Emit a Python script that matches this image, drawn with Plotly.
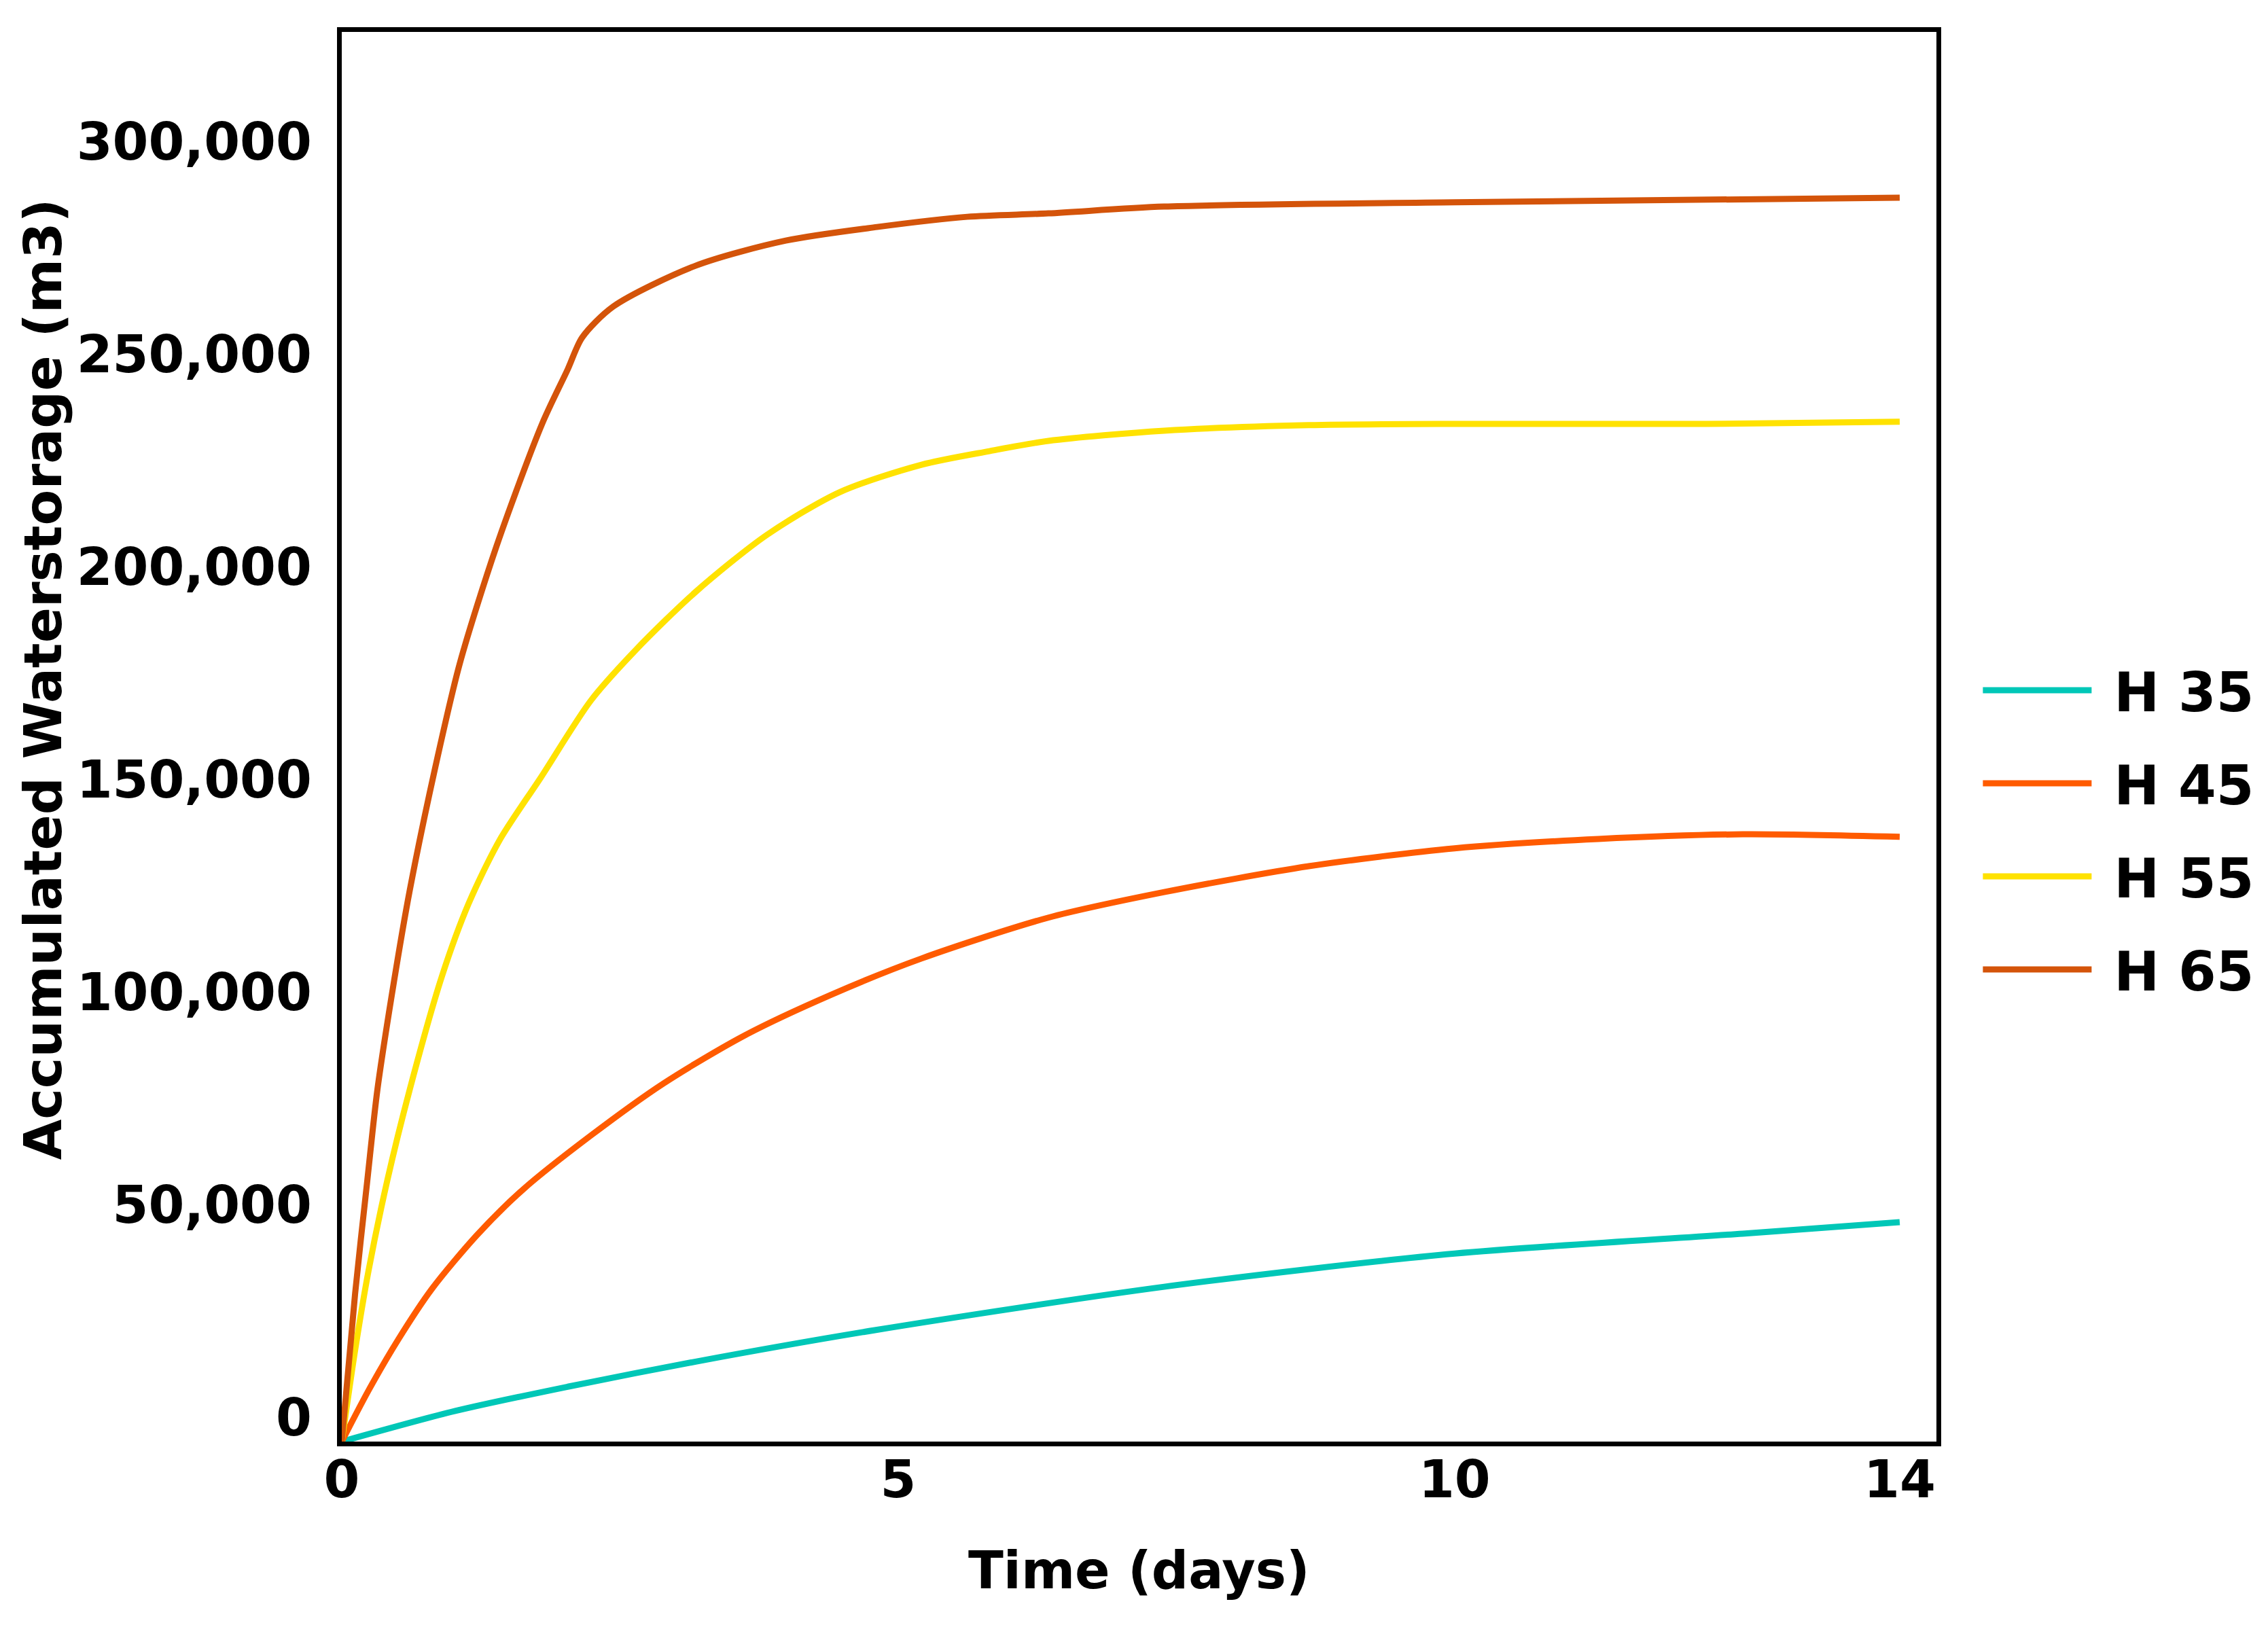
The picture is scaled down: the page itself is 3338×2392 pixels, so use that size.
import plotly.graph_objects as go

# ---- data ----
series_names = ["H 35", "H 45", "H 55", "H 65"]
series_colors = ["#00C7B7", "#FF5B00", "#FFE200", "#D4540A"]

h35_days = [0, 1.02, 2.03, 3.18, 4.79, 7.39, 10.0, 12.59, 14.0]
h35_vals = [0, 7200, 12900, 18800, 26200, 36400, 44200, 48900, 51600]

h45_days = [0, 0.24, 0.51, 0.81, 1.22, 1.63, 2.24, 2.89, 3.62, 4.40, 5.21,
            6.35, 7.39, 8.69, 10.0, 11.29, 12.59, 14.0]
h45_vals = [0, 12000, 24100, 35900, 48700, 59300, 72000, 84200, 95500, 105100,
            113600, 123200, 129200, 135300, 139500, 141700, 142800, 142200]

h55_days = [0, 0.12, 0.24, 0.41, 0.61, 0.90, 1.14, 1.42, 1.79, 2.24,
            2.64, 3.18, 3.82, 4.48, 5.21, 5.82, 6.35, 7.39, 8.69, 10.0, 12.26, 14.0]
h55_vals = [0, 21500, 40100, 61500, 82700, 109400, 126500, 141500, 156200,
            174300, 186100, 199800, 213200, 223300, 229700, 232900, 235300,
            237700, 239000, 239300, 239300, 239800]

h65_days = [0, 0.12, 0.23, 0.32, 0.47, 0.61, 0.84, 1.06, 1.39, 1.80,
            2.03, 2.16, 2.44, 3.18, 3.99, 4.81, 5.62, 6.35, 7.39, 10.0, 14.0]
h65_vals = [0, 34800, 61500, 82700, 108300, 129500, 158500, 182900, 210500,
            239300, 252100, 259600, 266900, 276500, 282400, 285600,
            288000, 288800, 290400, 291400, 292500]

x_tickvals = [0, 5, 10, 14]
y_tickvals = [0, 50000, 100000, 150000, 200000, 250000, 300000]

x_title = "Time (days)"
y_title = "Accumulated Waterstorage (m3)"

FONT = "DejaVu Sans"
NBSP = "\u00a0"

fig = go.Figure()
all_days = [h35_days, h45_days, h55_days, h65_days]
all_vals = [h35_vals, h45_vals, h55_vals, h65_vals]
for name, xs, ys, col in zip(series_names, all_days, all_vals, series_colors):
    fig.add_trace(go.Scatter(
        x=xs, y=ys, mode="lines", name=NBSP + name, legendgroup=name,
        line=dict(color=col, width=9, shape="spline", smoothing=0.8),
    ))

fig.update_layout(
    width=3338, height=2392,
    margin=dict(l=495, r=496, t=39, b=278),
    paper_bgcolor="white", plot_bgcolor="white",
    showlegend=True,
    legend=dict(
        x=1.027, xanchor="left", y=0.434, yanchor="middle",
        font=dict(family=FONT, size=80, color="black", weight="bold"),
        itemwidth=160, tracegroupgap=30,
        bgcolor="rgba(0,0,0,0)",
    ),
    annotations=[
        dict(text=y_title, xref="paper", yref="paper", x=-0.1875, y=0.541,
             xanchor="center", yanchor="middle", textangle=-90, showarrow=False,
             font=dict(family=FONT, size=77, color="black", weight="bold")),
        dict(text=x_title, xref="paper", yref="paper", x=0.5, y=-0.0915,
             xanchor="center", yanchor="middle", showarrow=False,
             font=dict(family=FONT, size=76, color="black", weight="bold")),
    ],
)

fig.update_xaxes(
    range=[0, 14.33], tickvals=x_tickvals, ticks="", showgrid=False, zeroline=False,
    showline=True, mirror=True, linecolor="black", linewidth=7,
    tickfont=dict(family=FONT, size=76, color="black", weight="bold"),
    ticklabelstandoff=-16,
)
fig.update_yaxes(
    range=[0, 331470], tickvals=y_tickvals, tickformat=",", ticks="", showgrid=False,
    zeroline=False, showline=True, mirror=True, linecolor="black", linewidth=7,
    tickfont=dict(family=FONT, size=76, color="black", weight="bold"),
    ticklabelstandoff=22, ticklabelshift=-36,
)

fig.write_html("out.html")
